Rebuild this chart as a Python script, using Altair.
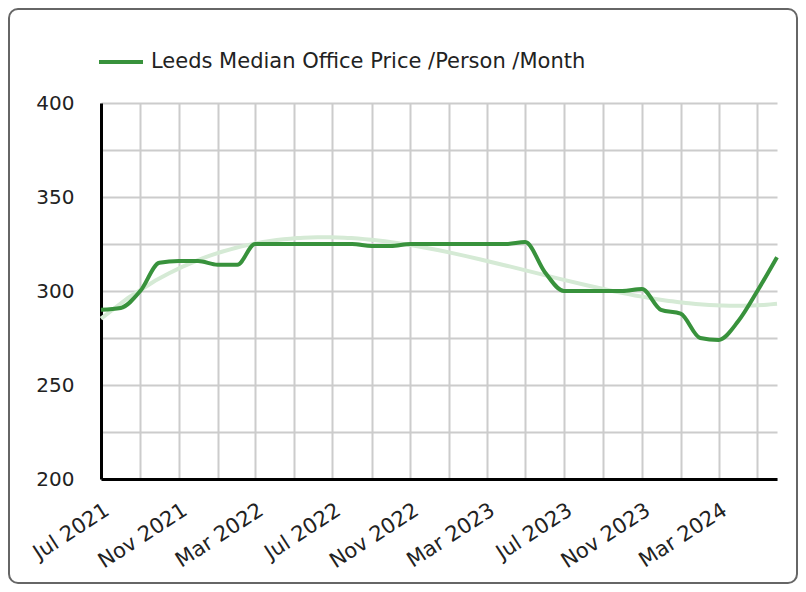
import altair as alt
import pandas as pd

months = ["2021-07", "2021-08", "2021-09", "2021-10", "2021-11", "2021-12",
          "2022-01", "2022-02", "2022-03", "2022-04", "2022-05", "2022-06",
          "2022-07", "2022-08", "2022-09", "2022-10", "2022-11", "2022-12",
          "2023-01", "2023-02", "2023-03", "2023-04", "2023-05", "2023-06",
          "2023-07", "2023-08", "2023-09", "2023-10", "2023-11", "2023-12",
          "2024-01", "2024-02", "2024-03", "2024-04", "2024-05", "2024-06"]
prices = [290, 291, 300, 315, 316, 316,
          314, 314, 325, 325, 325, 325,
          325, 325, 324, 324, 325, 325,
          325, 325, 325, 325, 326, 310,
          300, 300, 300, 300, 301, 290,
          288, 275, 274, 284, 300, 318]
series_name = "Leeds Median Office Price /Person /Month"
y_ticks = [200, 225, 250, 275, 300, 325, 350, 375, 400]

dates = pd.to_datetime([m + "-01" for m in months])
days = (dates - dates[0]).days
df = pd.DataFrame({
    "date": [m + "-01T00:00:00" for m in months],
    "d": list(days),
    "price": prices,
    "series": series_name,
})
total_days = int(days[-1])

FONT = "DejaVu Sans"
x_values = [alt.DateTime(year=int(m[:4]), month=int(m[5:]), date=1) for m in months[::2]]
x_scale = alt.Scale(domain=[alt.DateTime(year=2021, month=7, date=1),
                            alt.DateTime(year=2024, month=6, date=1)])
y_scale = alt.Scale(domain=[200, 400], nice=False)

x_axis = alt.Axis(
    values=x_values,
    labelExpr="month(datum.value) % 4 == 2 ? timeFormat(datum.value, '%b %Y') : ''",
    labelAngle=-33, labelAlign="right", labelBaseline="top",
    labelFontSize=21, labelColor="#222222", labelPadding=20, labelFont=FONT,
    ticks=False, tickSize=0, grid=True, gridColor="#cccccc", gridWidth=2,
    domainColor="#000000", domainWidth=3, title=None, labelOverlap=False,
)
y_axis = alt.Axis(
    values=y_ticks,
    labelExpr="datum.value % 50 == 0 ? datum.label : ''",
    labelFontSize=20, labelColor="#222222", labelPadding=27, labelFont=FONT,
    ticks=False, tickSize=0, grid=True, gridColor="#cccccc", gridWidth=2,
    domainColor="#000000", domainWidth=3, title=None, labelOverlap=False,
)

base = alt.Chart(df)

line = base.mark_line(interpolate="monotone", strokeWidth=4).encode(
    x=alt.X("date:T", scale=x_scale, axis=x_axis),
    y=alt.Y("price:Q", scale=y_scale, axis=y_axis),
    color=alt.Color("series:N",
                    scale=alt.Scale(domain=[series_name], range=["#38923c"]),
                    legend=alt.Legend(
                        orient="none", legendX=-4, legendY=-65, title=None,
                        symbolType="stroke", symbolSize=1936, symbolStrokeWidth=4,
                        labelFontSize=21, labelColor="#222222", labelOffset=6,
                        labelFont=FONT, padding=0, labelLimit=700)),
)

trend = base.transform_regression(
    "d", "price", method="poly", order=3, as_=["d", "trend"]
).mark_line(strokeWidth=4, color="#d5ead5").encode(
    x=alt.X("d:Q", scale=alt.Scale(domain=[0, total_days], nice=False, zero=False), axis=None),
    y=alt.Y("trend:Q", scale=y_scale),
)

border = alt.Chart(pd.DataFrame({"k": [0]})).mark_rect(
    fill="transparent", stroke="#666666", strokeWidth=2, cornerRadius=9
).encode(
    x=alt.value(-92), x2=alt.value(696), y=alt.value(-94), y2=alt.value(480)
)

chart = alt.layer(trend, line, border).resolve_scale(x="independent").properties(
    width=676, height=376,
    autosize=alt.AutoSizeParams(type="none"),
    padding={"left": 93, "top": 95, "right": 21, "bottom": 105},
).configure(font=FONT).configure_view(stroke=None)

chart.save("out.html", embed_options={"renderer": "svg", "actions": False})
